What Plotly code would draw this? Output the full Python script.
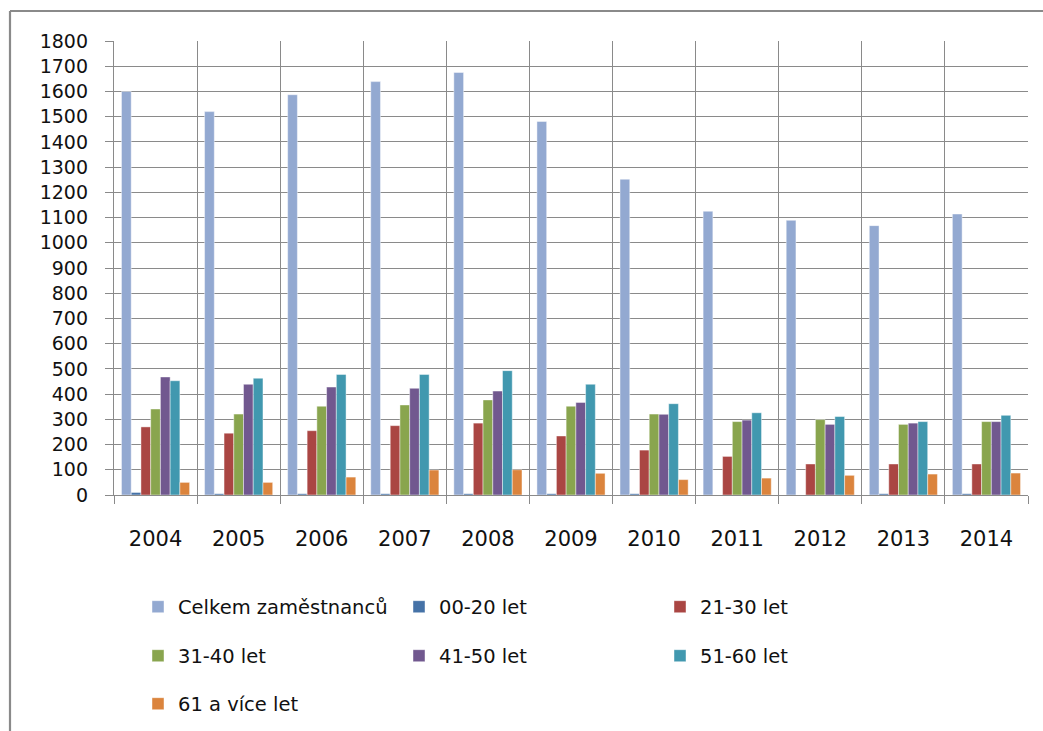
import plotly.graph_objects as go

years = ["2004", "2005", "2006", "2007", "2008", "2009", "2010", "2011", "2012", "2013", "2014"]
celkem = [1600, 1520, 1587, 1639, 1675, 1481, 1252, 1125, 1089, 1068, 1114]
let_00_20 = [10, 5, 5, 5, 5, 5, 5, 0, 0, 5, 5]
let_21_30 = [270, 245, 255, 275, 285, 234, 178, 153, 123, 123, 123]
let_31_40 = [341, 321, 352, 357, 377, 352, 321, 291, 299, 280, 291]
let_41_50 = [468, 439, 428, 423, 412, 367, 320, 297, 280, 285, 291]
let_51_60 = [453, 463, 478, 478, 493, 439, 362, 326, 311, 291, 316]
let_61 = [50, 50, 71, 99, 100, 86, 61, 67, 78, 83, 87]

series_names = ["Celkem zaměstnanců", "00-20 let", "21-30 let", "31-40 let",
                "41-50 let", "51-60 let", "61 a více let"]
series_values = [celkem, let_00_20, let_21_30, let_31_40, let_41_50, let_51_60, let_61]
colors = ["#93A9D1", "#4572A7", "#AA4643", "#89A54E", "#71588F", "#4198AF", "#DB843D"]
legend_ids = ["legend", "legend", "legend", "legend2", "legend2", "legend2", "legend3"]

W, H = 1043, 731
L, R, T, B = 114, 15, 41, 236
pw, ph = W - L - R, H - T - B

def px_x(x):
    return (x - L) / pw

def px_y(y):
    return (H - B - y) / ph

fig = go.Figure()
for name, vals, col, lg in zip(series_names, series_values, colors, legend_ids):
    fig.add_trace(go.Bar(
        x=years, y=vals, name=name, legend=lg,
        marker=dict(color=col, line=dict(color="rgba(255,255,255,0.55)", width=0.8)),
    ))

font_family = "DejaVu Sans"
grid_col = "#8a8a8a"

legend_common = dict(
    orientation="h", xanchor="left", yanchor="middle",
    font=dict(family=font_family, size=19.5, color="#111111"),
    entrywidth=216, entrywidthmode="pixels",
    bgcolor="rgba(0,0,0,0)", borderwidth=0,
)

fig.update_layout(
    width=W, height=H,
    margin=dict(l=L, r=R, t=T, b=B, pad=0, autoexpand=False),
    paper_bgcolor="white", plot_bgcolor="white",
    barmode="group", bargap=0.18, bargroupgap=0,
    showlegend=True,
    legend=dict(x=px_x(138), y=px_y(607), **legend_common),
    legend2=dict(x=px_x(138), y=px_y(656), **legend_common),
    legend3=dict(x=px_x(138), y=px_y(704), **legend_common),
    xaxis=dict(
        type="category", tickson="boundaries",
        showgrid=True, gridcolor=grid_col, gridwidth=1.4,
        showline=True, linecolor=grid_col, linewidth=1.4,
        ticks="outside", ticklen=8, tickcolor=grid_col, tickwidth=1.4,
        ticklabelstandoff=25,
        tickfont=dict(family=font_family, size=21, color="#111111"),
    ),
    yaxis=dict(
        range=[0, 1800], dtick=100, tick0=0,
        showgrid=True, gridcolor=grid_col, gridwidth=1.4,
        showline=True, linecolor=grid_col, linewidth=1.4,
        ticks="outside", ticklen=8, tickcolor=grid_col, tickwidth=1.4,
        ticklabelstandoff=13,
        tickfont=dict(family=font_family, size=19, color="#111111"),
        zeroline=False,
    ),
    shapes=[
        dict(type="line", xref="paper", yref="paper",
             x0=px_x(10), x1=px_x(10), y0=px_y(H + 5), y1=px_y(11),
             line=dict(color="#8a8a8a", width=2.2)),
        dict(type="line", xref="paper", yref="paper",
             x0=px_x(10), x1=px_x(W + 5), y0=px_y(11), y1=px_y(11),
             line=dict(color="#8a8a8a", width=2.2)),
    ],
)

fig.write_html("out.html")
